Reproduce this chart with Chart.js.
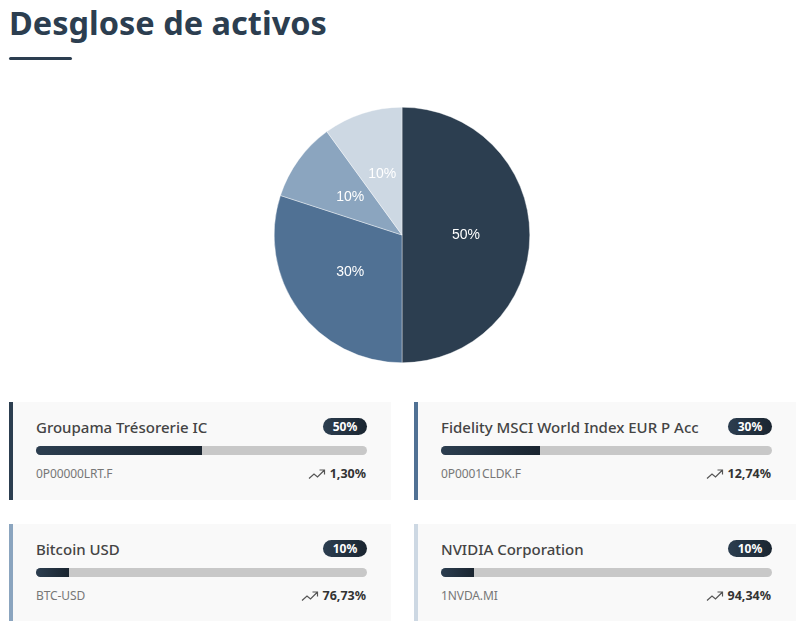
<!DOCTYPE html>
<html lang="es">
<head>
<meta charset="utf-8">
<title>Desglose de activos</title>
<script src="https://cdn.jsdelivr.net/npm/chart.js@4"></script>
<style>
  html, body { margin: 0; padding: 0; background: #fff; }
  body { position: relative; width: 800px; height: 623px; overflow: hidden; font-family: "Noto Sans", "Open Sans", sans-serif; }
  h1 { position: absolute; left: 9px; top: 1px; margin: 0; font-size: 32.5px; line-height: 44px; font-weight: 700; color: #2c3e50; }
  .rule { position: absolute; left: 9px; top: 57px; width: 63px; height: 3px; border-radius: 2px; background: #2c3e50; }
  .pie-box { position: absolute; left: 274px; top: 107px; width: 256px; height: 256px; }
  .card { position: absolute; width: 378px; background: #f9f9f9; border-left: 4px solid; }
  .name { position: absolute; left: 23px; top: 13px; font-size: 15px; line-height: 24px; font-weight: 500; color: #444; white-space: nowrap; }
  .badge { position: absolute; right: 24px; top: 16px; width: 44px; height: 17px; line-height: 17px; border-radius: 9px; text-align: center; font-size: 12px; font-weight: 700; color: #fff; background: linear-gradient(90deg, #2c3e50, #1a2530); }
  .track { position: absolute; left: 23px; top: 44px; width: 331px; height: 9px; border-radius: 5px; background: #c8c8c8; overflow: hidden; }
  .fill { height: 100%; background: linear-gradient(90deg, #2c3e50, #1a2530); }
  .ticker { position: absolute; left: 23px; top: 62px; font-size: 12px; line-height: 20px; color: #777; letter-spacing: -0.1px; }
  .ret { position: absolute; right: 25px; top: 62px; font-size: 12.5px; line-height: 20px; font-weight: 700; color: #333; display: flex; align-items: center; gap: 4px; }
</style>
</head>
<body>
<h1>Desglose de activos</h1>
<div class="rule"></div>
<div class="pie-box"><canvas id="pie"></canvas></div>
<div id="cards"></div>
<script>
const assetNames = ['Groupama Trésorerie IC', 'Fidelity MSCI World Index EUR P Acc', 'Bitcoin USD', 'NVIDIA Corporation'];
const tickers = ['0P00000LRT.F', '0P0001CLDK.F', 'BTC-USD', '1NVDA.MI'];
const weights = [50, 30, 10, 10];
const returns = ['1,30%', '12,74%', '76,73%', '94,34%'];
const sliceColors = ['#2c3e50', '#507194', '#8ba5bf', '#cdd8e3'];

// percent labels in the middle of each slice
const sliceLabels = {
  id: 'sliceLabels',
  afterDatasetsDraw(chart) {
    const ctx = chart.ctx;
    ctx.save();
    ctx.font = '14px "Liberation Sans", Arial, sans-serif';
    ctx.fillStyle = '#fff';
    ctx.textAlign = 'center';
    ctx.textBaseline = 'middle';
    chart.getDatasetMeta(0).data.forEach((arc, i) => {
      const pos = arc.tooltipPosition();
      ctx.fillText(weights[i] + '%', pos.x, pos.y);
    });
    ctx.restore();
  }
};

new Chart(document.getElementById('pie'), {
  type: 'pie',
  data: {
    labels: assetNames,
    datasets: [{ data: weights, backgroundColor: sliceColors, borderColor: '#fff', borderWidth: 0.4 }]
  },
  options: {
    responsive: true,
    maintainAspectRatio: false,
    animation: false,
    plugins: { legend: { display: false }, tooltip: { enabled: false } }
  },
  plugins: [sliceLabels]
});

const cardLefts = [9, 414, 9, 414];
const cardTops = [402, 402, 524, 524];
const cardHeights = [98, 98, 97, 97];
const trendIcon = '<svg width="18" height="12" viewBox="0 0 18 12" fill="none" stroke="#555" stroke-width="1.2"><path d="M1 10.5 6 6l3.5 3L16 2.5M11.5 2H16.5V6.5"/></svg>';

const cards = document.getElementById('cards');
assetNames.forEach((name, i) => {
  const card = document.createElement('div');
  card.className = 'card';
  card.style.left = cardLefts[i] + 'px';
  card.style.top = cardTops[i] + 'px';
  card.style.height = cardHeights[i] + 'px';
  card.style.borderLeftColor = sliceColors[i];
  card.innerHTML =
    '<div class="name">' + name + '</div>' +
    '<div class="badge">' + weights[i] + '%</div>' +
    '<div class="track"><div class="fill" style="width:' + weights[i] + '%"></div></div>' +
    '<div class="ticker">' + tickers[i] + '</div>' +
    '<div class="ret">' + trendIcon + '<span>' + returns[i] + '</span></div>';
  cards.appendChild(card);
});
</script>
</body>
</html>
